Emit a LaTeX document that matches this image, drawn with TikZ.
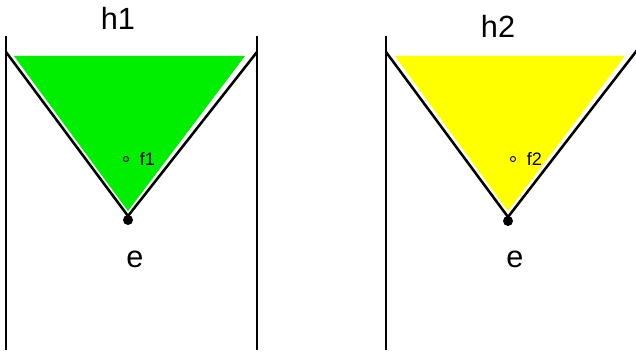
\documentclass[tikz,border=0pt]{standalone}
\usepackage{fontspec}
\setmainfont{Liberation Sans}
\usepackage{xcolor}
\usetikzlibrary{positioning}
\definecolor{faceA}{RGB}{0,238,0}
\definecolor{faceB}{RGB}{255,255,0}

\begin{document}
\begin{tikzpicture}[
  x=0.75pt,y=-0.75pt,
  wall/.style={line width=1.1pt},
  edge/.style={line width=1.9pt},
  vertex/.style={circle,fill=black,inner sep=0pt,minimum size=7.5pt},
  hole/.style={circle,draw,line width=0.7pt,inner sep=0pt,minimum size=3.8pt},
  big/.style={font=\fontsize{23}{27}\selectfont,inner sep=0pt},
  small/.style={font=\fontsize{13.5}{16}\selectfont,inner sep=0pt}
]
\useasboundingbox (0,0) rectangle (636,352);
% left panel
\coordinate (a1) at (6,52);
\coordinate (b1) at (257,52);
\node[vertex] (e1) at (128,220) {};
\coordinate (t1) at (128,216);
\fill[faceA] (14,56) -- (245,56) -- (128,211) -- cycle;
\draw[wall] (6,36) -- (6,350);
\draw[wall] (257,36) -- (257,350);
\draw[edge] (a1) -- (t1) -- (b1);
\node[hole] (p1) at (126,159) {};
\node[small,right=8pt of p1] (f1) {f1};
\node[big] (h1) at (118,18) {h1};
\node[big] (l1) at (135,259) {e};
% right panel
\coordinate (a2) at (386,52);
\coordinate (b2) at (638,49);
\node[vertex] (e2) at (508,221) {};
\coordinate (t2) at (508,217);
\fill[faceB] (395,56) -- (625,56) -- (508,211) -- cycle;
\draw[wall] (386,36) -- (386,350);
\draw[edge] (a2) -- (t2) -- (b2);
\node[hole] (p2) at (513,159) {};
\node[small,right=8pt of p2] (f2) {f2};
\node[big] (h2) at (498,26) {h2};
\node[big] (l2) at (515,259) {e};
\end{tikzpicture}
\end{document}
